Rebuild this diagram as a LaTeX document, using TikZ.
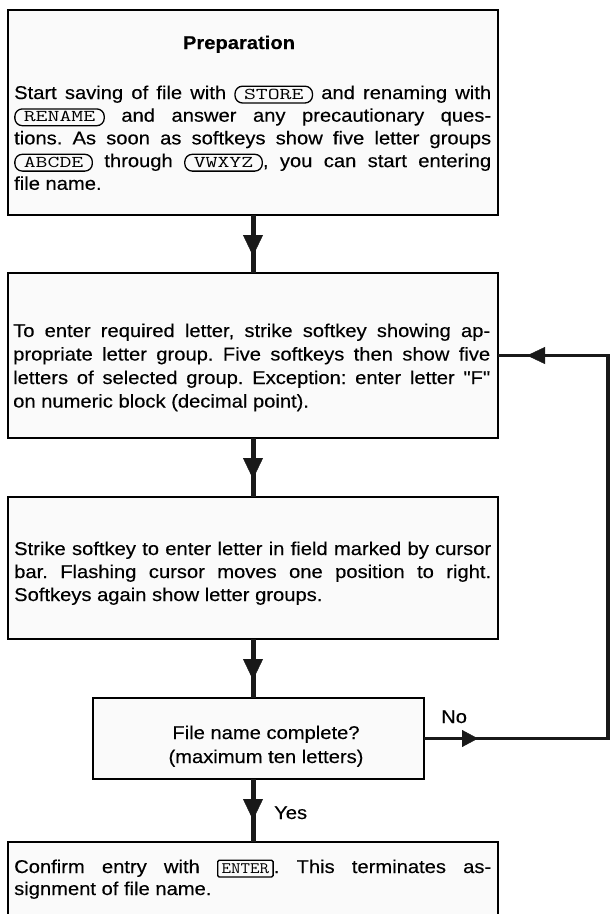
\documentclass[tikz,border=0pt]{standalone}
\usepackage{fontspec}
\setmainfont[FakeStretch=1.09,FakeBold=0.3,Ligatures=TeXOff]{Liberation Sans}
\usepackage{graphicx}
\usetikzlibrary{arrows.meta,decorations.markings}
\frenchspacing

\newcommand\softkey[2]{\tikz[baseline=(#1.base)]\node[softkeybox](#1){\scalebox{1.4}[1]{\fontsize{16.5}{16.5}\selectfont\ttfamily #2}};}
\newcommand\hardkey[2]{\tikz[baseline=(#1.base)]\node[hardkeybox](#1){\scalebox{1.15}[1]{\fontsize{16}{16}\selectfont\ttfamily #2}};}

\tikzset{
  softkeybox/.style={draw, line width=1.3pt, rounded corners=7.5pt, inner xsep=9pt, inner ysep=2.6pt, text height=10.2pt, text depth=1.4pt, outer sep=0pt},
  hardkeybox/.style={draw, line width=1.4pt, rounded corners=1.5pt, inner xsep=4pt, inner ysep=2.6pt, text height=10.2pt, text depth=1.4pt, outer sep=0pt},
  stepbox/.style={draw, line width=1.6pt, fill=black!2, inner sep=0pt, outer sep=0pt, anchor=north west},
  bodytext/.style={anchor=base west, inner sep=0pt, text width=477pt, align=justify, font=\fontsize{18.5}{22.7}\selectfont},
  labeltext/.style={anchor=base west, inner sep=0pt, font=\fontsize{18.5}{20}\selectfont},
  flow/.style={line width=5pt, draw=black!90, postaction={decorate},
    decoration={markings, mark=at position 41pt with {\arrow{Triangle[width=20pt,length=21pt,line width=0.4pt]}}}},
  loopline/.style={line width=3.2pt, draw=black!90, postaction={decorate},
    decoration={markings,
      mark=at position 54pt with {\arrow{Triangle[width=17pt,length=16pt,line width=0.4pt]}},
      mark=at position 648pt with {\arrow{Triangle[width=17pt,length=18pt,line width=0.4pt]}}}},
}

\begin{document}
\begin{tikzpicture}[x=1pt,y=-1pt]
\useasboundingbox (0,0) rectangle (612,914);
\clip (0,0) rectangle (612,914);

% boxes
\node[stepbox, minimum width=490pt, minimum height=205pt] (b1) at (8,10) {};
\node[stepbox, minimum width=490pt, minimum height=165pt] (b2) at (8,273) {};
\node[stepbox, minimum width=490pt, minimum height=142pt] (b3) at (8,497) {};
\node[stepbox, minimum width=331pt, minimum height=81pt] (dec) at (93,698) {};
\node[stepbox, minimum width=490pt, minimum height=100pt] (b5) at (8,842) {};

% texts
\node[anchor=base, inner sep=0pt, font=\fontsize{18.5}{20}\selectfont\bfseries] (t0) at (239,49) {Preparation};
\node[bodytext] (t1) at (14,99) {Start saving of file with \softkey{kstore}{STORE} and renaming with\linebreak
\softkey{krename}{RENAME} and answer any precautionary ques-\linebreak
tions. As soon as softkeys show five letter groups\linebreak
\softkey{kabcde}{ABCDE} through \softkey{kvwxyz}{VWXYZ}, you can start entering\linebreak
file name.};

\node[bodytext, font=\fontsize{18.5}{23.5}\selectfont] (t2) at (13,337) {To enter required letter, strike softkey showing ap-\linebreak
propriate letter group. Five softkeys then show five\linebreak
letters of selected group. Exception: enter letter "F"\linebreak
on numeric block (decimal point).};

\node[bodytext, font=\fontsize{18.5}{23}\selectfont] (t3) at (14,555) {Strike softkey to enter letter in field marked by cursor\linebreak
bar. Flashing cursor moves one position to right.\linebreak
Softkeys again show letter groups.};

\node[anchor=base, inner sep=0pt, align=center, font=\fontsize{18.5}{24}\selectfont] (t4) at (266,763) {File name complete?\\(maximum ten letters)};

\node[bodytext, font=\fontsize{18.5}{22}\selectfont] (t5) at (14,873) {Confirm entry with \hardkey{kenter}{ENTER}. This terminates as-\linebreak
signment of file name.};

% connectors
\draw[flow] (b1.south) -- (b2.north);
\draw[flow] (b2.south) -- (b3.north);
\draw[flow] (b3.south) -- (b3.south |- dec.north);
\draw[flow] (b5.north |- dec.south) -- (b5.north);

\coordinate (c1) at (608,738.5);
\coordinate (c2) at (608,355.5);
\draw[loopline, line join=miter] (dec.east) -- (c1) -- (c2) -- (b2.east);

% labels
\node[labeltext] (lno) at (441,723) {No};
\node[labeltext] (lyes) at (274,819) {Yes};
\end{tikzpicture}
\end{document}
